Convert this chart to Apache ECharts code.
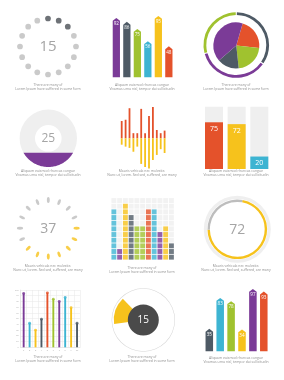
<!DOCTYPE html>
<html><head><meta charset="utf-8">
<script src="https://cdn.jsdelivr.net/npm/echarts@6/dist/echarts.min.js"></script>
<style>html,body{margin:0;padding:0;background:#fff}#c{width:284px;height:380px}</style>
</head><body><div id="c"></div>
<script>
// ---------- palette ----------
const COL = {purple:'#7B3B97', dark:'#4E5A65', green:'#A0C22F', blue:'#3DB4D2', yellow:'#F6C21C', red:'#E4522B'};
const GRAY = '#BDBDBD', LIGHT = '#EFEFEF', DOT_ON = '#4A4F55';
const FONT = "'Open Sans','DejaVu Sans',sans-serif";

// ---------- data ----------
const dotsActive = [1,1,1,0,0,0,0,0,0,0,0,0,0,0,0,0];
const dotsLabel = '15';

const arrowCatsTop = ['A','B','C','D','E','F'];
const arrowValsTop = [92,86,75,56,95,48];
const arrowColsTop = ['purple','dark','green','blue','yellow','red'];

const ringNames = ['dark','purple','green'];
const ringShares = [125,130,105];
const pieNames = ['red','green','dark','purple'];
const pieShares = [80,78,55,147];

const fillLevel = 25;

const divCats = ['1','2','3','4','5','6','7','8','9','10','11','12'];
const divUp = [27,29,47,8,8,46,8,35,49,13,8,12];
const divDown = [-10,-13,-15,-21,-13,-40,-45,-47,-34,-26,-17,-23];

const barCats = ['a','b','c'];
const barVals = [75,72,20];
const barCols = ['red','yellow','blue'];

const dashOn = [0,0,0,0,1,1,1,1,1,1,1,0,0,0,0,0];
const dashLabel = '37';

const cellCols = ['blue','purple','yellow','dark','green','green','red','blue','purple','yellow','dark'];
const cellCounts = [9,2,10,8,6,6,9,9,5,6,3];
const cellRows = ['1','2','3','4','5','6','7','8','9','10','11'];

const progress = 72;

const colCats = ['1','2','3','4','5','6','7','8','9','10'];
const colVals = [94,42,30,49,95,84,80,87,69,42];
const colCols = ['purple','blue','yellow','dark','red','green','purple','blue','yellow','dark'];

const sectorVal = 15;

const arrowCatsBot = ['A','B','C','D','E','F'];
const arrowValsBot = [35,83,78,34,97,93];
const arrowColsBot = ['dark','blue','green','yellow','purple','red'];

const capA = ['There are many of', 'Lorem Ipsum have suffered in some form'];
const capB = ['Aliquam euismod rhoncus congue', 'Vivamus urna nisl, tempor dui sollicitudin'];
const capC = ['Mauris vehicula nec molestie.', 'Nunc ut, lorem. Sed sed, suffered, are many'];

// ---------- helpers ----------
const chart = echarts.init(document.getElementById('c'), null, {renderer:'canvas'});
const none = {show:false};
function arrowRender(cols){
  return function(params, api){
    const v = api.value(1);
    const base = api.coord([api.value(0), 0]);
    const top = api.coord([api.value(0), v]);
    const w = api.size([1,0])[0]*0.69, h = 2.8;
    const x0 = base[0]-w/2, x1 = base[0]+w/2;
    return {type:'group', children:[
      {type:'polygon', shape:{points:[[x0,base[1]],[x0,top[1]+h],[base[0],top[1]],[x1,top[1]+h],[x1,base[1]]]},
       style:{fill:COL[cols[params.dataIndex]]}},
      {type:'text', x:base[0], y:top[1]+h+0.6,
       style:{text:String(v), align:'center', verticalAlign:'top', textAlign:'center', textVerticalAlign:'top', fill:'#fff', font:'4.6px '+FONT}}
    ]};
  };
}
function segRender(params, api){
  const c = api.coord([50,50]);
  const R = api.size([100,0])[0]/2;
  const ly = api.coord([50, api.value(1)])[1];
  const dy = ly - c[1];
  const a = Math.acos(Math.max(-1, Math.min(1, dy/R)));
  const pts = [];
  const N = 60;
  for (let i=0;i<=N;i++){
    const t = Math.PI/2 - a + (2*a)*i/N;
    pts.push([c[0]+R*Math.cos(t), c[1]+R*Math.sin(t)]);
  }
  return {type:'polygon', shape:{points:pts}, style:{fill:COL.purple}};
}
function gridAt(l,t,w,h){ return {left:l, top:t, width:w, height:h, containLabel:false, outerBoundsMode:'none'}; }
function txt(x,y,s,size,color,weight){
  return {type:'text', x:x, y:y, z:100, zlevel:0, silent:true,
    style:{text:s, align:'center', verticalAlign:'middle', textAlign:'center', textVerticalAlign:'middle', fill:color, font:(weight||'normal')+' '+size+'px '+FONT}};
}
function cap(x,y,lines){
  return {type:'text', x:x, y:y, z:100, silent:true,
    style:{text:lines.join('\n'), align:'center', verticalAlign:'top', textAlign:'center', textVerticalAlign:'top', fill:'#8E8E8E', font:'3.4px '+FONT, lineHeight:4.1}};
}

// cell data
const cellData = [];
cellCols.forEach((c,ci)=>{
  cellRows.forEach((r,ri)=>{
    cellData.push({value:[ci,ri], itemStyle:{color: ri < cellCounts[ci] ? COL[c] : LIGHT}});
  });
});

const option = {
  animation:false,
  backgroundColor:'#fff',
  grid:[
    gridAt(111.1,12.8,63,64.5),    // 0 arrows top
    gridAt(19.6,109.6,57.4,57.4),  // 1 fill circle
    gridAt(119.75,106.3,46.8,64),  // 2 diverging
    gridAt(202.65,106.7,68,62.3),  // 3 three bars
    gridAt(111,197.7,63.3,62.3),   // 4 cells
    gridAt(20.7,290,59.3,57.3),    // 5 column chart
    gridAt(203.85,287.1,65.4,64.2) // 6 arrows bottom
  ],
  xAxis:[
    {gridIndex:0,type:'category',data:arrowCatsTop,show:false},
    {gridIndex:1,type:'value',min:0,max:100,show:false},
    {gridIndex:2,type:'category',data:divCats,show:false},
    {gridIndex:3,type:'category',data:barCats,show:false},
    {gridIndex:4,type:'category',data:cellCols.map((c,i)=>c+i),show:false},
    {gridIndex:5,type:'category',data:colCats,boundaryGap:true,
      axisLine:{lineStyle:{color:'#DDD',width:0.5}},axisTick:{show:false},
      axisLabel:{fontSize:2.2,color:'#AAA',margin:2,interval:0},
      splitLine:{show:true,interval:0,lineStyle:{color:'#E6E6E6',width:0.5}}},
    {gridIndex:6,type:'category',data:arrowCatsBot,show:false}
  ],
  yAxis:[
    {gridIndex:0,type:'value',min:0,max:100,show:false},
    {gridIndex:1,type:'value',min:0,max:100,show:false},
    {gridIndex:2,type:'value',min:-50,max:50,show:false},
    {gridIndex:3,type:'value',min:0,max:100,show:false},
    {gridIndex:4,type:'category',data:cellRows,show:false},
    {gridIndex:5,type:'value',min:0,max:100,interval:10,
      axisLine:{show:true,lineStyle:{color:'#DDD',width:0.5}},axisTick:{show:false},
      axisLabel:{fontSize:2.2,color:'#AAA',margin:2},
      splitLine:{show:true,lineStyle:{color:'#E6E6E6',width:0.5}}},
    {gridIndex:6,type:'value',min:0,max:100,show:false}
  ],
  polar:[
    {center:[48,46.5], radius:28},
    {center:[48.3,228.3], radius:28.3}
  ],
  angleAxis:[
    {polarIndex:0,type:'value',min:0,max:16,startAngle:90,clockwise:true,show:false},
    {polarIndex:1,type:'value',min:0,max:16,startAngle:90,clockwise:true,show:false}
  ],
  radiusAxis:[
    {polarIndex:0,type:'value',min:0,max:1,show:false},
    {polarIndex:1,type:'value',min:0,max:1,show:false}
  ],
  series:[
    // P1 dots
    {type:'scatter',coordinateSystem:'polar',polarIndex:0,symbol:'circle',symbolSize:5.7,silent:true,
      data:dotsActive.map((a,i)=>({value:[1,i],itemStyle:{color:a?DOT_ON:GRAY}}))},
    // P2 arrows
    {type:'custom',xAxisIndex:0,yAxisIndex:0,renderItem:arrowRender(arrowColsTop),
      data:arrowValsTop.map((v,i)=>[i,v]),silent:true},
    // P3 ring + pie
    {type:'pie',center:[236.3,45],radius:[30,32.8],startAngle:90,padAngle:2,silent:true,label:none,labelLine:none,
      data:ringShares.map((v,i)=>({value:v,itemStyle:{color:COL[ringNames[i]]}}))},
    {type:'pie',center:[236.3,45.5],radius:[0,23],startAngle:74,silent:true,label:none,labelLine:none,
      data:pieShares.map((v,i)=>({value:v,itemStyle:{color:COL[pieNames[i]]}}))},
    // P4 donut + fill
    {type:'pie',center:[48.3,138.3],radius:[13.3,28.7],silent:true,label:none,labelLine:none,
      data:[{value:1,itemStyle:{color:LIGHT}}]},
    {type:'custom',xAxisIndex:1,yAxisIndex:1,renderItem:segRender,data:[[50,fillLevel]],silent:true,z:5},
    // P5 diverging bars
    {type:'bar',xAxisIndex:2,yAxisIndex:2,stack:'d',barWidth:1.8,silent:true,data:divUp,itemStyle:{color:COL.red}},
    {type:'bar',xAxisIndex:2,yAxisIndex:2,stack:'d',barWidth:1.8,silent:true,data:divDown,itemStyle:{color:COL.yellow}},
    // P6 three bars
    {type:'bar',xAxisIndex:3,yAxisIndex:3,barWidth:18,silent:true,showBackground:true,
      backgroundStyle:{color:LIGHT},
      data:barVals.map((v,i)=>({value:v,itemStyle:{color:COL[barCols[i]]}})),
      label:{show:true,position:'insideTop',distance:3,color:'#fff',fontSize:7,fontFamily:FONT}},
    // P7 dashes
    {type:'scatter',coordinateSystem:'polar',polarIndex:1,symbol:'circle',symbolSize:[2.9,6.1],silent:true,
      symbolRotate:function(v){return -v[1]*22.5;},
      data:dashOn.map((a,i)=>({value:[1,i],itemStyle:{color:a?COL.yellow:GRAY}}))},
    // P8 cells
    {type:'scatter',xAxisIndex:4,yAxisIndex:4,symbol:'rect',symbolSize:4.9,silent:true,data:cellData},
    // P9 progress ring
    {type:'pie',center:[237.3,229.3],radius:[30.3,33.5],silent:true,label:none,labelLine:none,
      data:[{value:1,itemStyle:{color:LIGHT}}]},
    {type:'pie',center:[237.3,229.3],radius:[27.4,29.8],startAngle:80,silent:true,label:none,labelLine:none,
      data:[{value:progress,itemStyle:{color:COL.yellow}},{value:100-progress,itemStyle:{color:GRAY}}]},
    // P10 columns + dots
    {type:'bar',xAxisIndex:5,yAxisIndex:5,barWidth:1.9,silent:true,
      data:colVals.map((v,i)=>({value:v,itemStyle:{color:COL[colCols[i]]}}))},
    {type:'scatter',xAxisIndex:5,yAxisIndex:5,symbolSize:2.9,silent:true,
      data:colVals.map((v,i)=>({value:[i,v],itemStyle:{color:COL[colCols[i]]}}))},
    // P11 sector dial
    {type:'pie',center:[143.3,320],radius:[31.2,31.7],silent:true,label:none,labelLine:none,
      data:[{value:1,itemStyle:{color:'#D5D5D5'}}]},
    {type:'pie',center:[143.3,320],radius:[0,29.5],startAngle:188,silent:true,label:none,labelLine:none,
      data:[{value:sectorVal,itemStyle:{color:COL.yellow}},{value:100-sectorVal,itemStyle:{color:'rgba(0,0,0,0)'}}]},
    {type:'pie',center:[143.3,320],radius:[0,15.5],silent:true,label:none,labelLine:none,
      data:[{value:1,itemStyle:{color:'#4A4A4A'}}]},
    // P12 arrows
    {type:'custom',xAxisIndex:6,yAxisIndex:6,renderItem:arrowRender(arrowColsBot),
      data:arrowValsBot.map((v,i)=>[i,v]),silent:true}
  ],
  graphic:{elements:[
    txt(48,46.7,dotsLabel,15,'#A5A5A5'),
    txt(48.3,138.6,String(fillLevel),12,'#A5A5A5'),
    txt(48.3,228.6,dashLabel,14,'#A5A5A5'),
    txt(237.3,229.6,String(progress),14,'#A5A5A5'),
    txt(143.3,320.3,String(sectorVal),10,'#FFFFFF'),
    cap(48,83,capA), cap(142,83,capB), cap(236,83,capA),
    cap(48,169,capB), cap(142,169,capC), cap(236,169,capB),
    cap(48,264,capC), cap(142,265.5,capA), cap(236,264,capC),
    cap(48,354.7,capA), cap(142,354.7,capA), cap(236,355.5,capB)
  ]}
};
chart.setOption(option);
</script></body></html>
